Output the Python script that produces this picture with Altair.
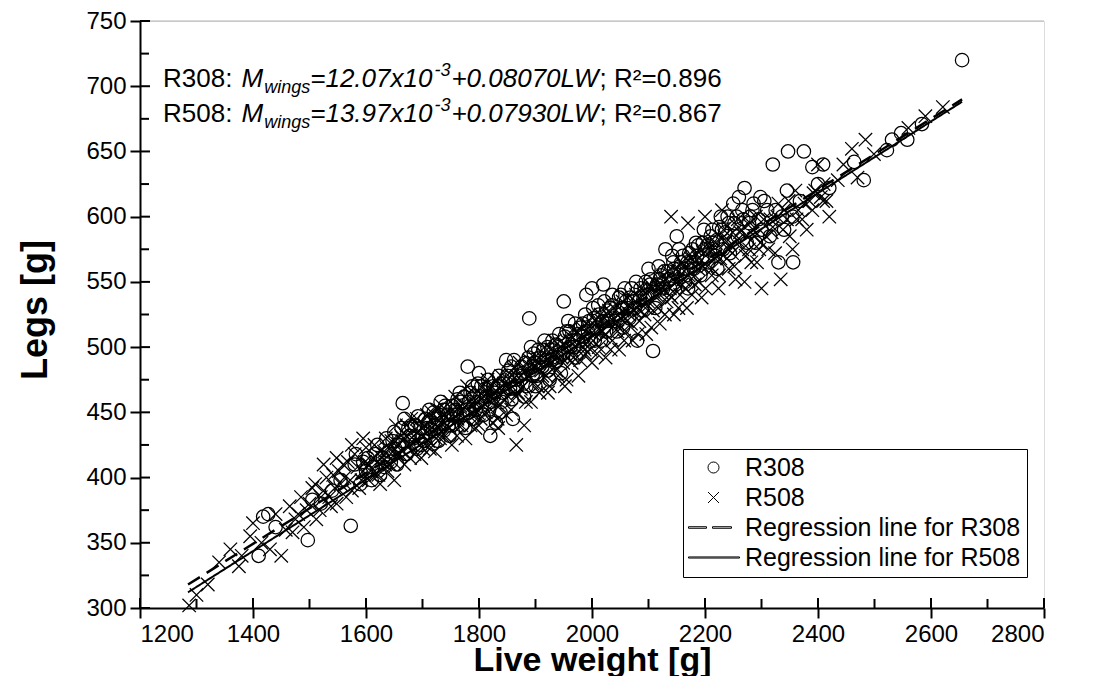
import altair as alt
import pandas as pd

# ---------------- data ----------------
r308_x = [1410, 1418, 1427, 1440, 1497, 1505, 1520, 1540, 1555, 1573, 1582, 1580, 1590, 1595, 1600, 1610,
          1612, 1620, 1625, 1630, 1636, 1640, 1644, 1650, 1652, 1655, 1665, 1665, 1668, 1672, 1675, 1680,
          1684, 1690, 1692, 1698, 1700, 1705, 1708, 1712, 1715, 1718, 1720, 1724, 1728, 1732, 1735, 1738,
          1740, 1744, 1748, 1752, 1755, 1758, 1762, 1766, 1770, 1772, 1776, 1778, 1780, 1782, 1785, 1788,
          1790, 1794, 1798, 1800, 1802, 1805, 1808, 1812, 1816, 1820, 1822, 1825, 1828, 1830, 1835, 1838,
          1840, 1844, 1848, 1852, 1855, 1858, 1860, 1862, 1865, 1868, 1875, 1878, 1880, 1884, 1888, 1889,
          1892, 1895, 1898, 1900, 1902, 1905, 1908, 1912, 1916, 1920, 1922, 1925, 1928, 1930, 1934, 1938,
          1942, 1945, 1948, 1950, 1955, 1958, 1962, 1966, 1970, 1972, 1978, 1980, 1985, 1988, 1990, 1995,
          1998, 2000, 2002, 2005, 2008, 2012, 2016, 2020, 2022, 2025, 2028, 2032, 2036, 2040, 2044, 2048,
          2052, 2055, 2058, 2062, 2066, 2070, 2074, 2078, 2080, 2085, 2088, 2095, 2098, 2100, 2104, 2108,
          2112, 2115, 2118, 2122, 2126, 2130, 2134, 2138, 2142, 2145, 2148, 2150, 2154, 2158, 2162, 2165,
          2170, 2172, 2176, 2180, 2184, 2188, 2192, 2195, 2198, 2200, 2206, 2210, 2214, 2218, 2222, 2225,
          2228, 2232, 2236, 2240, 2244, 2250, 2252, 2258, 2260, 2266, 2270, 2274, 2278, 2280, 2286, 2290,
          2295, 2300, 2305, 2310, 2315, 2320, 2325, 2330, 2336, 2340, 2345, 2347, 2355, 2356, 2368, 2375,
          2390, 2400, 2409, 2420, 2464, 2481, 2522, 2531, 2547, 2558, 2584, 2655,
          1603, 1617, 1633, 1647, 1658, 1663, 1677, 1687, 1696, 1703, 1711, 1722, 1729, 1737, 1746, 1753,
          1761, 1768, 1774, 1783, 1791, 1797, 1804, 1811, 1818, 1826, 1833, 1842, 1850, 1857, 1864, 1872,
          1882, 1890, 1897, 1906, 1914, 1921, 1929, 1937, 1944, 1952, 1960, 1968, 1976, 1984, 1993, 2003,
          2011, 2019, 2027, 2035, 2043, 2051, 2060, 2068, 2076, 2086, 2094, 2103, 2111, 2120, 2128, 2136,
          2144, 2153, 2161, 2169, 2178, 2186, 2196, 2204, 2213, 2221, 2230, 2242, 2256, 2268, 2284, 2298]
r308_y = [340, 370, 372, 362, 352, 383, 380, 390, 398, 363, 418, 410, 395, 412, 405, 398,
          408, 425, 402, 415, 430, 420, 412, 435, 422, 410, 457, 428, 445, 418, 438, 440,
          430, 422, 447, 425, 432, 445, 438, 452, 437, 426, 450, 445, 428, 458, 442, 436,
          455, 448, 432, 440, 448, 452, 460, 465, 440, 448, 438, 452, 485, 458, 465, 470,
          445, 452, 472, 480, 462, 455, 448, 462, 475, 432, 458, 470, 465, 442, 478, 450,
          458, 472, 490, 482, 468, 460, 445, 490, 475, 470, 485, 480, 462, 470, 492, 522,
          500, 478, 488, 470, 478, 498, 492, 485, 505, 490, 482, 475, 498, 505, 488, 492,
          510, 480, 495, 535, 512, 520, 500, 505, 518, 492, 495, 515, 508, 525, 540, 520,
          505, 545, 530, 505, 515, 525, 505, 548, 535, 512, 520, 530, 540, 520, 512, 538,
          530, 515, 545, 530, 522, 545, 535, 550, 505, 538, 528, 550, 540, 560, 552, 497,
          530, 548, 562, 555, 545, 575, 558, 545, 570, 560, 548, 585, 575, 565, 560, 550,
          545, 572, 565, 560, 580, 578, 555, 568, 590, 575, 565, 585, 580, 570, 560, 592,
          600, 575, 588, 600, 572, 610, 595, 585, 615, 605, 622, 580, 595, 600, 610, 580,
          598, 590, 612, 605, 585, 640, 605, 565, 600, 590, 620, 650, 600, 565, 612, 650,
          638, 625, 640, 622, 642, 628, 651, 659, 664, 659, 671, 720,
          415, 418, 408, 428, 425, 438, 432, 440, 438, 428, 443, 440, 448, 452, 440, 455,
          448, 458, 462, 450, 462, 458, 470, 468, 452, 462, 470, 465, 478, 485, 468, 478,
          488, 482, 495, 485, 498, 500, 490, 502, 495, 508, 512, 500, 510, 518, 512, 522,
          532, 520, 528, 532, 525, 540, 535, 538, 530, 545, 538, 548, 542, 552, 558, 552,
          565, 560, 570, 565, 575, 570, 580, 578, 590, 582, 590, 595, 600, 598, 605, 615]

r508_x = [1287, 1300, 1320, 1340, 1360, 1375, 1380, 1395, 1400, 1415, 1430, 1440, 1450, 1458, 1465, 1470,
          1475, 1480, 1485, 1490, 1495, 1500, 1505, 1510, 1512, 1518, 1520, 1525, 1525, 1530, 1535, 1538,
          1542, 1545, 1548, 1548, 1552, 1555, 1560, 1562, 1565, 1568, 1572, 1575, 1575, 1580, 1585, 1588,
          1592, 1595, 1595, 1598, 1600, 1605, 1608, 1612, 1615, 1620, 1622, 1625, 1628, 1632, 1635, 1638,
          1642, 1645, 1648, 1650, 1653, 1656, 1660, 1662, 1665, 1668, 1672, 1675, 1678, 1680, 1684, 1686,
          1690, 1692, 1695, 1698, 1702, 1704, 1708, 1710, 1713, 1716, 1719, 1722, 1725, 1728, 1731, 1734,
          1737, 1740, 1743, 1746, 1749, 1752, 1755, 1758, 1761, 1764, 1767, 1770, 1773, 1776, 1779, 1782,
          1785, 1788, 1791, 1794, 1797, 1800, 1803, 1806, 1809, 1812, 1815, 1818, 1821, 1824, 1827, 1830,
          1833, 1834, 1836, 1839, 1842, 1845, 1848, 1851, 1854, 1857, 1863, 1866, 1866, 1869, 1872, 1875,
          1878, 1880, 1883, 1886, 1889, 1892, 1895, 1898, 1901, 1904, 1907, 1910, 1913, 1916, 1919, 1922,
          1925, 1928, 1931, 1934, 1937, 1940, 1943, 1946, 1949, 1952, 1955, 1958, 1961, 1964, 1967, 1970,
          1973, 1976, 1979, 1982, 1985, 1988, 1991, 1994, 1997, 2000, 2003, 2006, 2009, 2012, 2015, 2018,
          2021, 2024, 2027, 2030, 2033, 2036, 2039, 2042, 2045, 2048, 2051, 2054, 2057, 2060, 2063, 2066,
          2069, 2072, 2075, 2078, 2081, 2084, 2087, 2090, 2093, 2096, 2099, 2102, 2105, 2108, 2111, 2114,
          2117, 2120, 2123, 2126, 2129, 2132, 2135, 2138, 2140, 2141, 2145, 2147, 2150, 2153, 2156, 2159,
          2162, 2165, 2168, 2170, 2171, 2175, 2177, 2182, 2183, 2188, 2189, 2194, 2195, 2200, 2201, 2205,
          2207, 2212, 2213, 2218, 2219, 2224, 2225, 2230, 2233, 2236, 2239, 2242, 2245, 2248, 2252, 2254,
          2258, 2262, 2266, 2270, 2274, 2278, 2282, 2285, 2290, 2292, 2298, 2300, 2308, 2312, 2316, 2320,
          2324, 2330, 2334, 2340, 2345, 2350, 2355, 2360, 2365, 2372, 2380, 2385, 2390, 2395, 2400, 2405,
          2409, 2415, 2420, 2435, 2445, 2460, 2470, 2484, 2499, 2560, 2590, 2621,
          1605, 1618, 1626, 1634, 1641, 1649, 1657, 1664, 1671, 1679, 1687, 1694, 1701, 1709, 1717, 1724,
          1732, 1739, 1747, 1754, 1762, 1769, 1777, 1784, 1792, 1799, 1807, 1814, 1822, 1829, 1837, 1844,
          1852, 1859, 1867, 1874, 1882, 1889, 1897, 1904, 1912, 1919, 1927, 1934, 1942, 1949, 1957, 1964,
          1972, 1979, 1987, 1994, 2002, 2009, 2017, 2024, 2032, 2039, 2047, 2054, 2062, 2069, 2077, 2084,
          2092, 2099, 2107, 2114, 2122, 2129, 2137, 2144, 2152, 2159, 2167, 2174, 2182, 2189, 2197, 2204,
          2212, 2219, 2227, 2234, 2242, 2249, 2257, 2264, 2272, 2280, 2288, 2296, 2304, 2318, 2328, 2338,
          2348, 2362, 2376, 2392, 2410]
r508_y = [302, 310, 318, 335, 345, 332, 340, 355, 365, 350, 345, 372, 340, 360, 378, 358,
          368, 372, 385, 362, 375, 380, 392, 395, 368, 375, 385, 390, 410, 400, 385, 378,
          402, 392, 380, 415, 405, 395, 410, 400, 385, 412, 398, 390, 425, 418, 408, 392,
          398, 405, 430, 412, 423, 398, 405, 415, 425, 412, 402, 395, 415, 420, 430, 405,
          410, 428, 420, 398, 440, 418, 418, 432, 428, 410, 440, 425, 415, 445, 432, 418,
          445, 435, 425, 415, 432, 440, 448, 428, 422, 450, 442, 420, 452, 438, 430, 455,
          448, 432, 440, 445, 458, 425, 445, 462, 432, 440, 455, 452, 445, 430, 470, 465,
          440, 448, 458, 438, 450, 440, 445, 470, 462, 450, 475, 460, 452, 442, 465, 475,
          445, 438, 455, 478, 468, 460, 448, 470, 480, 452, 485, 462, 425, 465, 488, 478,
          470, 440, 458, 478, 490, 458, 472, 492, 485, 470, 465, 482, 495, 500, 478, 465,
          470, 488, 492, 505, 482, 478, 500, 492, 488, 470, 475, 510, 505, 488, 492, 500,
          512, 478, 490, 515, 500, 495, 518, 505, 498, 488, 510, 520, 495, 500, 525, 512,
          508, 492, 518, 528, 498, 505, 530, 518, 512, 498, 522, 535, 505, 512, 538, 525,
          518, 505, 528, 540, 510, 520, 545, 532, 525, 510, 535, 548, 515, 528, 550, 540,
          530, 518, 542, 555, 525, 535, 558, 545, 600, 538, 525, 550, 560, 530, 540, 565,
          552, 545, 530, 595, 555, 568, 540, 548, 572, 560, 550, 538, 562, 600, 545, 575,
          580, 555, 560, 568, 570, 545, 555, 605, 590, 580, 568, 560, 578, 572, 562, 552,
          598, 588, 575, 550, 585, 575, 565, 590, 600, 565, 580, 545, 585, 575, 598, 592,
          572, 610, 552, 605, 598, 585, 575, 620, 605, 598, 590, 612, 605, 620, 640, 615,
          612, 612, 600, 628, 640, 652, 630, 659, 648, 668, 677, 684,
          410, 402, 420, 410, 422, 412, 425, 420, 432, 425, 428, 440, 422, 435, 438, 430,
          442, 448, 438, 452, 445, 440, 455, 458, 448, 462, 455, 465, 470, 460, 468, 472,
          462, 475, 478, 468, 482, 478, 485, 488, 478, 490, 498, 485, 495, 502, 492, 498,
          505, 508, 498, 512, 505, 515, 520, 510, 518, 522, 515, 528, 520, 530, 535, 528,
          540, 532, 545, 538, 548, 552, 540, 552, 558, 548, 560, 565, 555, 568, 572, 562,
          575, 580, 568, 585, 575, 588, 582, 590, 570, 595, 585, 575, 598, 588, 600, 590,
          612, 598, 610, 618, 625]

series_names = ["R308", "R508", "Regression line for R308", "Regression line for R508"]

# regression lines (end points of each line, intercept and slope)
reg_series = ["R308", "R508"]
reg_x_start = [1285, 1285]
reg_x_end = [2655, 2655]
reg_intercept = [-30.9, -40.7]
reg_slope = [0.2715, 0.2745]

x_major = [1200, 1400, 1600, 1800, 2000, 2200, 2400, 2600, 2800]
x_minor = [1300, 1500, 1700, 1900, 2100, 2300, 2500, 2700]
y_major = [300, 350, 400, 450, 500, 550, 600, 650, 700, 750]
y_minor = [325, 375, 425, 475, 525, 575, 625, 675, 725]
y_top = [750]

FONT = "Liberation Sans"
W, H = 904, 587

# ---------------- tables ----------------
pts = pd.DataFrame({
    "x": r308_x + r508_x,
    "y": r308_y + r508_y,
    "series": ["R308"] * len(r308_x) + ["R508"] * len(r508_x),
})

reg_rows = []
for s, x0, x1, a, b in zip(reg_series, reg_x_start, reg_x_end, reg_intercept, reg_slope):
    for xv in (x0, x1):
        reg_rows.append({"x": xv, "y": a + b * xv, "series": s})
reg = pd.DataFrame(reg_rows)

xscale = alt.Scale(domain=[1200, 2800], nice=False, zero=False)
yscale = alt.Scale(domain=[300, 750], nice=False, zero=False)

shape_range = [
    "circle",
    "M-1,-1L1,1M-1,1L1,-1",
    "M-4.55,-0.14H-1.27V0.14H-4.55Z M-0.18,-0.14H3.27V0.14H-0.18Z",
    "M-4.55,-0.1H4.73V0.1H-4.55Z",
]

xaxis = alt.Axis(values=x_major, title="Live weight [g]", grid=False, tickSize=10, tickWidth=2,
                 domainWidth=2, domainColor="black", tickColor="black", labelFontSize=24,
                 labelFont=FONT, labelColor="black", labelPadding=4, titleFont=FONT,
                 titleFontSize=34, titleFontWeight="bold", titleColor="black",
                 titleX=W / 2, titleY=62, titleBaseline="alphabetic", titleAlign="center",
                 format="d")
yaxis = alt.Axis(values=y_major, title="Legs [g]", grid=False, tickSize=10, tickWidth=2,
                 domainWidth=2, domainColor="black", tickColor="black", labelFontSize=24,
                 labelFont=FONT, labelColor="black", labelPadding=4, titleFont=FONT,
                 titleFontSize=36, titleFontWeight="bold", titleColor="black",
                 titleX=-105, titleY=H / 2 - 5, titleAngle=270, titleBaseline="middle",
                 titleAlign="center", format="d")

points = alt.Chart(pts).mark_point(filled=False, size=180, strokeWidth=1.25, color="black",
                                   opacity=1).encode(
    x=alt.X("x:Q", scale=xscale, axis=xaxis),
    y=alt.Y("y:Q", scale=yscale, axis=yaxis),
    shape=alt.Shape("series:N", scale=alt.Scale(domain=series_names, range=shape_range),
                    legend=alt.Legend(orient="none", legendX=543, legendY=428, title=None,
                                      strokeColor="black", fillColor="white", padding=6,
                                      symbolOffset=12, labelOffset=19, labelFontSize=25,
                                      labelFont=FONT, labelColor="black", symbolSize=121,
                                      symbolStrokeColor="black", symbolStrokeWidth=1,
                                      rowPadding=4, labelLimit=500)),
)

lines = alt.Chart(reg).mark_line(color="black", clip=False).encode(
    x=alt.X("x:Q", scale=xscale),
    y=alt.Y("y:Q", scale=yscale),
    detail="series:N",
    strokeDash=alt.StrokeDash("series:N", scale=alt.Scale(domain=reg_series, range=[[14, 8], [1, 0]]),
                              legend=None),
    strokeWidth=alt.StrokeWidth("series:N", scale=alt.Scale(domain=reg_series, range=[2.5, 2]),
                                legend=None),
)

# light grey upper edge of the plot area
top_edge = alt.Chart(pd.DataFrame({"v": y_top})).mark_rule(color="#b4b4b4", strokeWidth=1).encode(
    y=alt.Y("v:Q", scale=yscale), x=alt.value(0), x2=alt.value(W))

# inward tick parts (major ticks cross the axis line, minor ticks point inward)
ymaj_in = alt.Chart(pd.DataFrame({"v": y_major})).mark_rule(color="black", strokeWidth=2).encode(
    y=alt.Y("v:Q", scale=yscale), x=alt.value(0), x2=alt.value(10))
ymin_in = alt.Chart(pd.DataFrame({"v": y_minor})).mark_rule(color="black", strokeWidth=2).encode(
    y=alt.Y("v:Q", scale=yscale), x=alt.value(0), x2=alt.value(9))
xmaj_in = alt.Chart(pd.DataFrame({"v": x_major})).mark_rule(color="black", strokeWidth=2).encode(
    x=alt.X("v:Q", scale=xscale), y=alt.value(H), y2=alt.value(H - 10))
xmin_in = alt.Chart(pd.DataFrame({"v": x_minor})).mark_rule(color="black", strokeWidth=2).encode(
    x=alt.X("v:Q", scale=xscale), y=alt.value(H), y2=alt.value(H - 9))

# ---------------- equation annotations ----------------
CW = {" ": 278, ";": 278, ":": 278, ".": 278, "=": 584, "+": 584, "-": 333, "R": 722, "M": 833,
      "L": 556, "W": 944, "x": 500, "w": 722, "i": 222, "n": 556, "g": 556, "s": 500, "²": 333}


def tw(t, size):
    return sum(CW.get(c, 556) for c in t) * size / 1000.0


F, f = 26, 18
eq_lines = [
    ["R308: ", "M", "wings", "=12.07x10", "-3", "+0.08070LW", " ; R²=0.896"],
    ["R508: ", "M", "wings", "=13.97x10", "-3", "+0.07930LW", " ; R²=0.867"],
]
piece_style = [  # (size, italic, baseline shift)
    (F, False, 0), (F, True, 0), (f, True, 6), (F, True, 0), (f, True, -11), (F, True, 0), (F, False, 0)
]
gaps = [0, 2, 1, 0, 2, 1, 0]
line_base = [66, 101]
ann = []
for li, pieces in enumerate(eq_lines):
    xp = 23.0
    for p, (sz, it, sh), g in zip(pieces, piece_style, gaps):
        xp += g
        ann.append(alt.Chart(pd.DataFrame({"t": [p]})).mark_text(
            align="left", baseline="alphabetic", font=FONT, fontSize=sz,
            fontStyle="italic" if it else "normal", color="black").encode(
            text="t:N", x=alt.value(xp), y=alt.value(line_base[li] + sh)))
        xp += tw(p, sz)

chart = alt.layer(top_edge, lines, points, ymaj_in, ymin_in, xmaj_in, xmin_in, *ann).properties(
    width=W, height=H,
    padding={"left": 132, "top": 13, "right": 48, "bottom": 68},
    autosize=alt.AutoSizeParams(type="none"),
).configure_view(stroke=None).configure(font=FONT)

chart.save("out.html", embed_options={"renderer": "svg", "actions": False})
